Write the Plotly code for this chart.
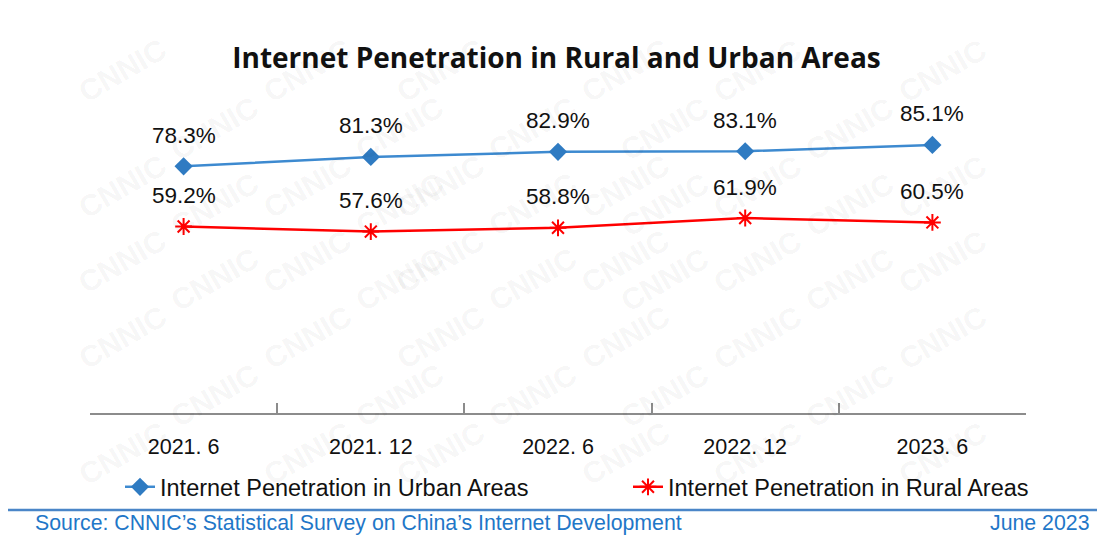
import plotly.graph_objects as go

# data
periods = ["2021. 6", "2021. 12", "2022. 6", "2022. 12", "2023. 6"]
urban = [78.3, 81.3, 82.9, 83.1, 85.1]
rural = [59.2, 57.6, 58.8, 61.9, 60.5]

urban_name = "Internet Penetration in Urban Areas"
rural_name = "Internet Penetration in Rural Areas"

# page has an 8px body margin, so work in window pixels minus that offset
OFF = 8
W, H = 1105 - OFF, 537 - OFF
L, R, T, B = 90 - OFF, 1105 - 1026, 98 - OFF, 537 - 413
pw, ph = W - L - R, H - T - B


def px_x(x):
    return (x - OFF - L) / pw


def px_y(y):
    return (H - B - (y - OFF)) / ph


fig = go.Figure()

# faint CNNIC watermark
for row in range(9):
    for col in range(6):
        x = 70 + col * 185 + (row % 2) * 92
        y = 30 + row * 58
        if x > 1060:
            continue
        fig.add_annotation(x=px_x(x), y=px_y(y), xref="paper", yref="paper",
                           text="<b>CNNIC</b>", showarrow=False, textangle=-30,
                           font=dict(size=30, color="rgba(0,0,0,0.055)",
                                     family="Liberation Sans"))

fig.add_trace(go.Scatter(
    x=periods, y=urban, name=urban_name, mode="lines+markers",
    line=dict(color="#3d8ad0", width=2.5),
    marker=dict(symbol="diamond", size=14, color="#2f7bc2"),
    legend="legend",
))
fig.add_trace(go.Scatter(
    x=periods, y=rural, name=rural_name, mode="lines+markers",
    line=dict(color="#ff0000", width=2.5),
    marker=dict(symbol="asterisk", size=14, color="#ff0000",
                line=dict(color="#ff0000", width=2)),
    legend="legend2",
))

# value labels
for series in (urban, rural):
    for p, v in zip(periods, series):
        fig.add_annotation(x=p, y=v, text=f"{v:.1f}%", showarrow=False,
                           yshift=31, font=dict(size=22.5, color="#111111"))

# source line
fig.add_annotation(x=px_x(33), y=px_y(523), xref="paper", yref="paper",
                   xanchor="left", yanchor="middle", showarrow=False,
                   text="Source: CNNIC\u2019s Statistical Survey on China\u2019s Internet Development",
                   font=dict(size=21.3, color="#1f77c8"))
fig.add_annotation(x=px_x(1091), y=px_y(523), xref="paper", yref="paper",
                   xanchor="right", yanchor="middle", showarrow=False,
                   text="June 2023",
                   font=dict(size=21.3, color="#1f77c8"))
fig.add_shape(type="line", xref="paper", yref="paper",
              x0=px_x(0), x1=px_x(1105), y0=px_y(510), y1=px_y(510),
              line=dict(color="#4a86c8", width=2.5))

legend_style = dict(orientation="h", xanchor="left", yanchor="middle",
                    font=dict(size=23.5, color="#111111"),
                    bgcolor="rgba(0,0,0,0)")

fig.update_layout(
    width=W, height=H,
    margin=dict(l=L, r=R, t=T, b=B, autoexpand=False),
    paper_bgcolor="white", plot_bgcolor="white",
    font=dict(family="Liberation Sans, Arial, sans-serif", color="#111111"),
    title=dict(text="<b>Internet Penetration in Rural and Urban Areas</b>",
               x=0.5, xanchor="center", y=1 - (58 - OFF) / H, yanchor="middle",
               font=dict(family="Open Sans", size=28, color="#111111")),
    showlegend=True,
    legend=dict(x=px_x(120), y=px_y(487), **legend_style),
    legend2=dict(x=px_x(628), y=px_y(487), **legend_style),
)
fig.update_xaxes(
    type="category", range=[-0.5, len(periods) - 0.5],
    showline=True, linecolor="#8c8c8c", linewidth=2,
    ticks="inside", tickson="boundaries", ticklen=10, tickwidth=2,
    tickcolor="#8c8c8c", showgrid=False, ticklabelstandoff=13,
    tickfont=dict(size=21.5, color="#111111"),
)
fig.update_yaxes(range=[0, 100], visible=False, showgrid=False)

fig.write_html("out.html")
